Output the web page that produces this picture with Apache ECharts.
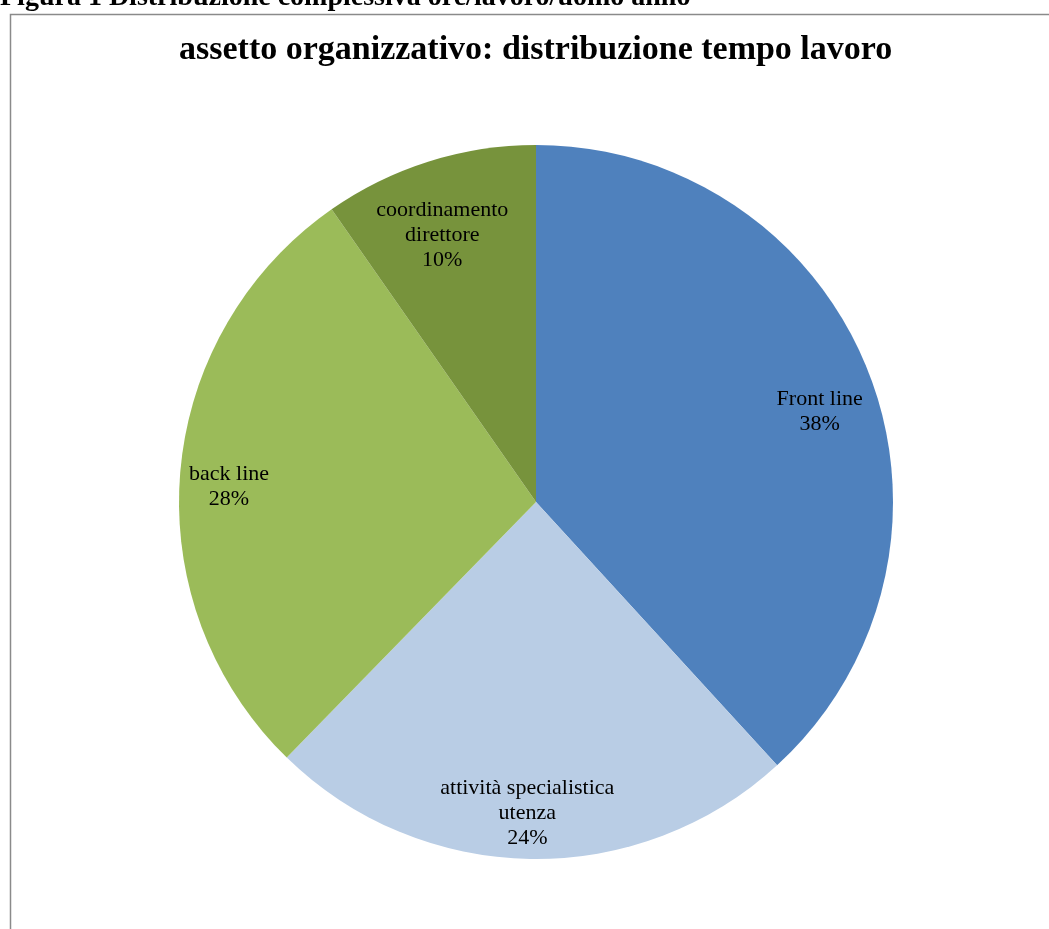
<!DOCTYPE html>
<html><head><meta charset="utf-8">
<script src="https://cdn.jsdelivr.net/npm/echarts@6/dist/echarts.min.js"></script>
<style>html,body{margin:0;padding:0;background:#fff}#c{width:1049px;height:929px}</style>
</head><body><div id="c"></div>
<script>
const caption = 'Figura 1 Distribuzione complessiva ore/lavoro/uomo anno';
const title = 'assetto organizzativo: distribuzione tempo lavoro';
const categories = ['Front line', 'attività specialistica\nutenza', 'back line', 'coordinamento\ndirettore'];
const values = [38.2, 24.1, 28.0, 9.7];
const colors = ['#4F81BD', '#B9CDE5', '#9BBB59', '#77933C'];
const labelOffsets = [[5, 18], [-4, 12], [-9, 9], [-4, 18]];

const total = values.reduce((a, b) => a + b, 0);
const data = categories.map((n, i) => ({ name: n, value: values[i], itemStyle: { color: colors[i] } }));
const serif = '"Liberation Serif", "DejaVu Serif", serif';
const chart = echarts.init(document.getElementById('c'));
chart.setOption({
  animation: false,
  graphic: [
    { type: 'rect', shape: { x: 10.5, y: 14.5, width: 1100, height: 1000 }, style: { fill: 'none', stroke: '#8a8a8a', lineWidth: 1.5 } },
    { type: 'text', left: 0, top: -16, style: { text: caption, font: 'bold 28px ' + serif, fill: '#000' } }
  ],
  title: { text: title, left: 174, top: 28, textStyle: { fontFamily: serif, fontWeight: 'bold', fontSize: 34, color: '#000' } },
  series: [
    { type: 'pie', center: [536, 502], radius: [0, 357], startAngle: 90, clockwise: true, data: data,
      label: { show: false }, labelLine: { show: false }, itemStyle: { borderWidth: 0 }, silent: true },
    { type: 'pie', center: [536, 502], radius: [235, 357], startAngle: 90, clockwise: true,
      data: data.map((d, i) => ({ name: d.name, value: d.value, itemStyle: { color: 'rgba(0,0,0,0)' }, label: { offset: labelOffsets[i] } })),
      itemStyle: { borderWidth: 0 }, silent: true,
      label: { show: true, position: 'inside', fontFamily: serif, fontSize: 22, lineHeight: 25, color: '#000',
        formatter: p => p.name + '\n' + Math.round(p.value / total * 100) + '%' },
      labelLine: { show: false } }
  ]
});
</script></body></html>
